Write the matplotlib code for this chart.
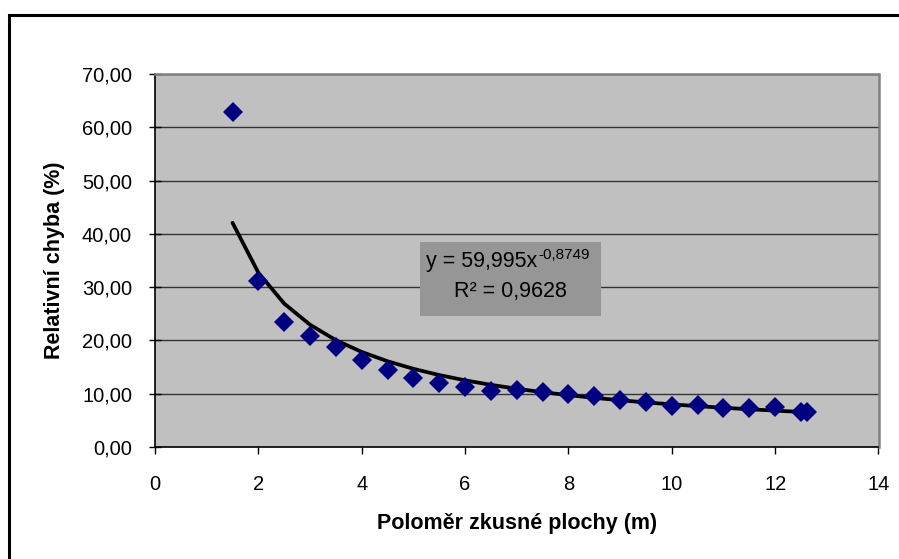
import numpy as np
import matplotlib.pyplot as plt
from matplotlib.patches import Rectangle

plt.rcParams['font.family'] = ['Liberation Sans', 'DejaVu Sans']

# Measured relative error vs. sample plot radius
radius = [1.5, 2.0, 2.5, 3.0, 3.5, 4.0, 4.5, 5.0, 5.5, 6.0, 6.5, 7.0, 7.5,
          8.0, 8.5, 9.0, 9.5, 10.0, 10.5, 11.0, 11.5, 12.0, 12.5, 12.62]
rel_error = [62.8, 31.2, 23.5, 20.8, 18.8, 16.3, 14.5, 13.0, 12.1, 11.3, 10.6,
             10.7, 10.25, 9.9, 9.6, 8.8, 8.5, 7.7, 7.9, 7.25, 7.25, 7.45, 6.6, 6.6]

# Power trend fit coefficients
fit_a = 59.995
fit_b = -0.8749
fit_r2 = 0.9628

x_ticks = [0, 2, 4, 6, 8, 10, 12, 14]
y_ticks = [0, 10, 20, 30, 40, 50, 60, 70]


def cz(v, nd):
    # decimal comma formatting
    return f"{v:.{nd}f}".replace('.', ',')


fig = plt.figure(figsize=(8.99, 5.59), dpi=100)
ax = fig.add_axes([155 / 899, 1 - 447 / 559, (878.5 - 155) / 899, (447 - 74) / 559])
ax.set_facecolor('#C0C0C0')

# chart frame (only top/left edge visible)
fig.patches.append(Rectangle((9 / 899, -0.1), 1.2, 1 - 14.5 / 559 + 0.1,
                             transform=fig.transFigure, fill=False,
                             edgecolor='black', linewidth=2.2))

ax.set_xlim(0, 14)
ax.set_ylim(0, 70)
ax.set_xticks(x_ticks)
ax.set_yticks(y_ticks)
ax.set_xticklabels([str(v) for v in x_ticks])
ax.set_yticklabels([cz(v, 2) for v in y_ticks])
ax.tick_params(axis='x', labelsize=14.5, length=5, width=1, color='black',
               direction='out', pad=15)
ax.tick_params(axis='y', labelsize=14.5, length=9, width=1, color='black',
               direction='inout', pad=12)

ax.yaxis.grid(True, color='#333333', linewidth=1.0)
ax.set_axisbelow(True)

for side in ['top', 'right']:
    ax.spines[side].set_color('#808080')
    ax.spines[side].set_linewidth(1.8)
for side in ['left', 'bottom']:
    ax.spines[side].set_color('black')
    ax.spines[side].set_linewidth(1.2)

r = np.array(radius)
ax.plot(r, fit_a * r ** fit_b, color='black', linewidth=2.7, zorder=3,
        solid_joinstyle='round', solid_capstyle='round')
ax.plot(radius, rel_error, linestyle='none', marker='D', markersize=10,
        color='#000080', markeredgewidth=0, zorder=4)

ax.set_xlabel('Poloměr zkusné plochy (m)', fontsize=15.5, fontweight='bold',
              labelpad=14)
ax.set_ylabel('Relativní chyba (%)', fontsize=15.5, fontweight='bold',
              labelpad=12)

# equation box
ax.add_patch(Rectangle((0.366, 0.352), 0.2505, 0.1984, transform=ax.transAxes,
                       facecolor='#969696', edgecolor='none', zorder=5))
eq1 = ax.text(0.3745, 0.497, f"y = {cz(fit_a, 3)}x", transform=ax.transAxes,
              fontsize=15.5, ha='left', va='center', zorder=6)
ax.annotate(cz(fit_b, 4), xy=(1, 1), xycoords=eq1, xytext=(0.5, 2),
            textcoords='offset points', fontsize=11, ha='left', va='top',
            zorder=6)
ax.text(0.4915, 0.417, f"R² = {cz(fit_r2, 4)}", transform=ax.transAxes,
        fontsize=15.5, ha='center', va='center', zorder=6)

fig.savefig('out.png', dpi=100)
